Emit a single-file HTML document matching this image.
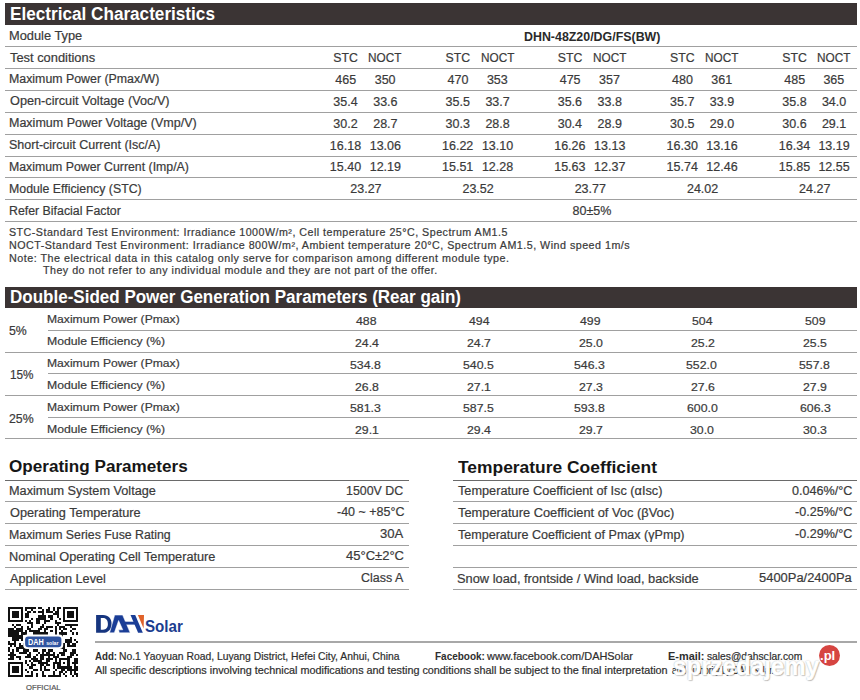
<!DOCTYPE html>
<html><head><meta charset="utf-8"><style>
html,body{margin:0;padding:0;background:#fff;}
body{width:860px;height:700px;position:relative;overflow:hidden;font-family:"Liberation Sans",sans-serif;}
.t{position:absolute;white-space:nowrap;line-height:normal;transform-origin:0 0;color:#3a3a3a;font-family:"Liberation Sans",sans-serif;-webkit-text-stroke:0.2px currentColor;}
.ln{position:absolute;}
</style></head><body>
<div class="ln" style="top:3px;left:5px;width:851.5px;height:22px;background:#3b3434"></div>
<div class="ln" style="top:287px;left:5px;width:851.5px;height:21px;background:#3b3434"></div>
<div class="ln" style="top:46px;left:5px;width:851.5px;height:1px;background:#a0a0a0"></div>
<div class="ln" style="top:68px;left:5px;width:851.5px;height:1px;background:#a0a0a0"></div>
<div class="ln" style="top:90px;left:5px;width:851.5px;height:1px;background:#a0a0a0"></div>
<div class="ln" style="top:112px;left:5px;width:851.5px;height:1px;background:#a0a0a0"></div>
<div class="ln" style="top:134px;left:5px;width:851.5px;height:1px;background:#a0a0a0"></div>
<div class="ln" style="top:156px;left:5px;width:851.5px;height:1px;background:#a0a0a0"></div>
<div class="ln" style="top:177px;left:5px;width:851.5px;height:1px;background:#a0a0a0"></div>
<div class="ln" style="top:199px;left:5px;width:851.5px;height:1px;background:#a0a0a0"></div>
<div class="ln" style="top:221px;left:5px;width:851.5px;height:1px;background:#a0a0a0"></div>
<div class="ln" style="top:330px;left:48px;width:808.5px;height:1px;background:#a0a0a0"></div>
<div class="ln" style="top:373px;left:48px;width:808.5px;height:1px;background:#a0a0a0"></div>
<div class="ln" style="top:417px;left:48px;width:808.5px;height:1px;background:#a0a0a0"></div>
<div class="ln" style="top:352px;left:5px;width:851.5px;height:1px;background:#a0a0a0"></div>
<div class="ln" style="top:395px;left:5px;width:851.5px;height:1px;background:#a0a0a0"></div>
<div class="ln" style="top:438px;left:5px;width:851.5px;height:1px;background:#a0a0a0"></div>
<div class="ln" style="top:480px;left:5px;width:403.5px;height:1px;background:#6a6a6a"></div>
<div class="ln" style="top:480px;left:453px;width:404px;height:1px;background:#6a6a6a"></div>
<div class="ln" style="top:501px;left:5px;width:403.5px;height:1px;background:#a0a0a0"></div>
<div class="ln" style="top:501px;left:453px;width:404px;height:1px;background:#a0a0a0"></div>
<div class="ln" style="top:523px;left:5px;width:403.5px;height:1px;background:#a0a0a0"></div>
<div class="ln" style="top:523px;left:453px;width:404px;height:1px;background:#a0a0a0"></div>
<div class="ln" style="top:545px;left:5px;width:403.5px;height:1px;background:#a0a0a0"></div>
<div class="ln" style="top:545px;left:453px;width:404px;height:1px;background:#a0a0a0"></div>
<div class="ln" style="top:567px;left:5px;width:403.5px;height:1px;background:#a0a0a0"></div>
<div class="ln" style="top:567px;left:453px;width:404px;height:1px;background:#a0a0a0"></div>
<div class="ln" style="top:589px;left:5px;width:403.5px;height:1px;background:#a0a0a0"></div>
<div class="ln" style="top:589px;left:453px;width:404px;height:1px;background:#a0a0a0"></div>
<div class="ln" style="top:641px;left:94.8px;width:762.0px;height:1.5px;background:#a8a8a8"></div>
<svg style="position:absolute;left:8.2px;top:607px" width="70" height="70" viewBox="0 0 33 33" shape-rendering="crispEdges"><path d="M0 0h1v1h-1zM1 0h1v1h-1zM2 0h1v1h-1zM3 0h1v1h-1zM4 0h1v1h-1zM5 0h1v1h-1zM6 0h1v1h-1zM8 0h1v1h-1zM9 0h1v1h-1zM10 0h1v1h-1zM11 0h1v1h-1zM12 0h1v1h-1zM14 0h1v1h-1zM15 0h1v1h-1zM19 0h1v1h-1zM21 0h1v1h-1zM23 0h1v1h-1zM24 0h1v1h-1zM26 0h1v1h-1zM27 0h1v1h-1zM28 0h1v1h-1zM29 0h1v1h-1zM30 0h1v1h-1zM31 0h1v1h-1zM32 0h1v1h-1zM0 1h1v1h-1zM6 1h1v1h-1zM8 1h1v1h-1zM11 1h1v1h-1zM16 1h1v1h-1zM18 1h1v1h-1zM19 1h1v1h-1zM21 1h1v1h-1zM23 1h1v1h-1zM26 1h1v1h-1zM32 1h1v1h-1zM0 2h1v1h-1zM2 2h1v1h-1zM3 2h1v1h-1zM4 2h1v1h-1zM6 2h1v1h-1zM9 2h1v1h-1zM10 2h1v1h-1zM12 2h1v1h-1zM14 2h1v1h-1zM15 2h1v1h-1zM16 2h1v1h-1zM18 2h1v1h-1zM19 2h1v1h-1zM20 2h1v1h-1zM22 2h1v1h-1zM23 2h1v1h-1zM26 2h1v1h-1zM28 2h1v1h-1zM29 2h1v1h-1zM30 2h1v1h-1zM32 2h1v1h-1zM0 3h1v1h-1zM2 3h1v1h-1zM3 3h1v1h-1zM4 3h1v1h-1zM6 3h1v1h-1zM8 3h1v1h-1zM9 3h1v1h-1zM16 3h1v1h-1zM21 3h1v1h-1zM22 3h1v1h-1zM23 3h1v1h-1zM26 3h1v1h-1zM28 3h1v1h-1zM29 3h1v1h-1zM30 3h1v1h-1zM32 3h1v1h-1zM0 4h1v1h-1zM2 4h1v1h-1zM3 4h1v1h-1zM4 4h1v1h-1zM6 4h1v1h-1zM8 4h1v1h-1zM9 4h1v1h-1zM14 4h1v1h-1zM15 4h1v1h-1zM16 4h1v1h-1zM17 4h1v1h-1zM19 4h1v1h-1zM20 4h1v1h-1zM23 4h1v1h-1zM26 4h1v1h-1zM28 4h1v1h-1zM29 4h1v1h-1zM30 4h1v1h-1zM32 4h1v1h-1zM0 5h1v1h-1zM6 5h1v1h-1zM11 5h1v1h-1zM13 5h1v1h-1zM14 5h1v1h-1zM15 5h1v1h-1zM16 5h1v1h-1zM17 5h1v1h-1zM20 5h1v1h-1zM24 5h1v1h-1zM26 5h1v1h-1zM32 5h1v1h-1zM0 6h1v1h-1zM1 6h1v1h-1zM2 6h1v1h-1zM3 6h1v1h-1zM4 6h1v1h-1zM5 6h1v1h-1zM6 6h1v1h-1zM8 6h1v1h-1zM10 6h1v1h-1zM13 6h1v1h-1zM14 6h1v1h-1zM17 6h1v1h-1zM18 6h1v1h-1zM19 6h1v1h-1zM22 6h1v1h-1zM26 6h1v1h-1zM27 6h1v1h-1zM28 6h1v1h-1zM29 6h1v1h-1zM30 6h1v1h-1zM31 6h1v1h-1zM32 6h1v1h-1zM9 7h1v1h-1zM10 7h1v1h-1zM11 7h1v1h-1zM13 7h1v1h-1zM14 7h1v1h-1zM17 7h1v1h-1zM22 7h1v1h-1zM23 7h1v1h-1zM24 7h1v1h-1zM2 8h1v1h-1zM4 8h1v1h-1zM5 8h1v1h-1zM11 8h1v1h-1zM16 8h1v1h-1zM23 8h1v1h-1zM27 8h1v1h-1zM28 8h1v1h-1zM29 8h1v1h-1zM30 8h1v1h-1zM31 8h1v1h-1zM32 8h1v1h-1zM3 9h1v1h-1zM6 9h1v1h-1zM9 9h1v1h-1zM11 9h1v1h-1zM15 9h1v1h-1zM16 9h1v1h-1zM18 9h1v1h-1zM19 9h1v1h-1zM20 9h1v1h-1zM22 9h1v1h-1zM24 9h1v1h-1zM25 9h1v1h-1zM26 9h1v1h-1zM29 9h1v1h-1zM0 10h1v1h-1zM1 10h1v1h-1zM2 10h1v1h-1zM4 10h1v1h-1zM5 10h1v1h-1zM6 10h1v1h-1zM9 10h1v1h-1zM10 10h1v1h-1zM14 10h1v1h-1zM15 10h1v1h-1zM17 10h1v1h-1zM18 10h1v1h-1zM22 10h1v1h-1zM24 10h1v1h-1zM26 10h1v1h-1zM27 10h1v1h-1zM30 10h1v1h-1zM31 10h1v1h-1zM0 11h1v1h-1zM1 11h1v1h-1zM2 11h1v1h-1zM3 11h1v1h-1zM4 11h1v1h-1zM5 11h1v1h-1zM6 11h1v1h-1zM8 11h1v1h-1zM10 11h1v1h-1zM11 11h1v1h-1zM12 11h1v1h-1zM13 11h1v1h-1zM14 11h1v1h-1zM17 11h1v1h-1zM20 11h1v1h-1zM22 11h1v1h-1zM25 11h1v1h-1zM29 11h1v1h-1zM0 12h1v1h-1zM1 12h1v1h-1zM2 12h1v1h-1zM3 12h1v1h-1zM4 12h1v1h-1zM6 12h1v1h-1zM7 12h1v1h-1zM8 12h1v1h-1zM12 12h1v1h-1zM13 12h1v1h-1zM14 12h1v1h-1zM15 12h1v1h-1zM16 12h1v1h-1zM17 12h1v1h-1zM18 12h1v1h-1zM22 12h1v1h-1zM24 12h1v1h-1zM25 12h1v1h-1zM26 12h1v1h-1zM27 12h1v1h-1zM30 12h1v1h-1zM32 12h1v1h-1zM0 13h1v1h-1zM1 13h1v1h-1zM2 13h1v1h-1zM3 13h1v1h-1zM4 13h1v1h-1zM5 13h1v1h-1zM6 13h1v1h-1zM13 13h1v1h-1zM14 13h1v1h-1zM16 13h1v1h-1zM19 13h1v1h-1zM25 13h1v1h-1zM2 14h1v1h-1zM3 14h1v1h-1zM4 14h1v1h-1zM5 14h1v1h-1zM6 14h1v1h-1zM13 14h1v1h-1zM19 14h1v1h-1zM21 14h1v1h-1zM22 14h1v1h-1zM23 14h1v1h-1zM25 14h1v1h-1zM29 14h1v1h-1zM2 15h1v1h-1zM3 15h1v1h-1zM4 15h1v1h-1zM6 15h1v1h-1zM8 15h1v1h-1zM9 15h1v1h-1zM10 15h1v1h-1zM14 15h1v1h-1zM18 15h1v1h-1zM20 15h1v1h-1zM23 15h1v1h-1zM24 15h1v1h-1zM27 15h1v1h-1zM28 15h1v1h-1zM29 15h1v1h-1zM31 15h1v1h-1zM0 16h1v1h-1zM3 16h1v1h-1zM8 16h1v1h-1zM11 16h1v1h-1zM12 16h1v1h-1zM14 16h1v1h-1zM15 16h1v1h-1zM16 16h1v1h-1zM17 16h1v1h-1zM18 16h1v1h-1zM20 16h1v1h-1zM23 16h1v1h-1zM27 16h1v1h-1zM28 16h1v1h-1zM29 16h1v1h-1zM32 16h1v1h-1zM0 17h1v1h-1zM1 17h1v1h-1zM2 17h1v1h-1zM3 17h1v1h-1zM5 17h1v1h-1zM7 17h1v1h-1zM8 17h1v1h-1zM10 17h1v1h-1zM11 17h1v1h-1zM20 17h1v1h-1zM22 17h1v1h-1zM25 17h1v1h-1zM26 17h1v1h-1zM28 17h1v1h-1zM30 17h1v1h-1zM31 17h1v1h-1zM1 18h1v1h-1zM3 18h1v1h-1zM5 18h1v1h-1zM6 18h1v1h-1zM7 18h1v1h-1zM8 18h1v1h-1zM11 18h1v1h-1zM14 18h1v1h-1zM15 18h1v1h-1zM16 18h1v1h-1zM17 18h1v1h-1zM18 18h1v1h-1zM19 18h1v1h-1zM20 18h1v1h-1zM21 18h1v1h-1zM25 18h1v1h-1zM26 18h1v1h-1zM28 18h1v1h-1zM29 18h1v1h-1zM30 18h1v1h-1zM31 18h1v1h-1zM0 19h1v1h-1zM4 19h1v1h-1zM5 19h1v1h-1zM6 19h1v1h-1zM7 19h1v1h-1zM8 19h1v1h-1zM12 19h1v1h-1zM13 19h1v1h-1zM18 19h1v1h-1zM19 19h1v1h-1zM24 19h1v1h-1zM25 19h1v1h-1zM26 19h1v1h-1zM0 20h1v1h-1zM2 20h1v1h-1zM4 20h1v1h-1zM7 20h1v1h-1zM8 20h1v1h-1zM9 20h1v1h-1zM12 20h1v1h-1zM13 20h1v1h-1zM16 20h1v1h-1zM17 20h1v1h-1zM19 20h1v1h-1zM20 20h1v1h-1zM26 20h1v1h-1zM27 20h1v1h-1zM30 20h1v1h-1zM31 20h1v1h-1zM1 21h1v1h-1zM2 21h1v1h-1zM5 21h1v1h-1zM6 21h1v1h-1zM7 21h1v1h-1zM8 21h1v1h-1zM10 21h1v1h-1zM14 21h1v1h-1zM16 21h1v1h-1zM18 21h1v1h-1zM19 21h1v1h-1zM21 21h1v1h-1zM24 21h1v1h-1zM25 21h1v1h-1zM26 21h1v1h-1zM29 21h1v1h-1zM30 21h1v1h-1zM31 21h1v1h-1zM0 22h1v1h-1zM1 22h1v1h-1zM2 22h1v1h-1zM3 22h1v1h-1zM9 22h1v1h-1zM10 22h1v1h-1zM13 22h1v1h-1zM15 22h1v1h-1zM16 22h1v1h-1zM17 22h1v1h-1zM18 22h1v1h-1zM19 22h1v1h-1zM20 22h1v1h-1zM21 22h1v1h-1zM23 22h1v1h-1zM25 22h1v1h-1zM26 22h1v1h-1zM29 22h1v1h-1zM30 22h1v1h-1zM32 22h1v1h-1zM1 23h1v1h-1zM2 23h1v1h-1zM4 23h1v1h-1zM5 23h1v1h-1zM8 23h1v1h-1zM9 23h1v1h-1zM10 23h1v1h-1zM12 23h1v1h-1zM15 23h1v1h-1zM16 23h1v1h-1zM19 23h1v1h-1zM21 23h1v1h-1zM22 23h1v1h-1zM23 23h1v1h-1zM28 23h1v1h-1zM29 23h1v1h-1zM0 24h1v1h-1zM1 24h1v1h-1zM2 24h1v1h-1zM5 24h1v1h-1zM11 24h1v1h-1zM12 24h1v1h-1zM13 24h1v1h-1zM15 24h1v1h-1zM16 24h1v1h-1zM18 24h1v1h-1zM19 24h1v1h-1zM20 24h1v1h-1zM22 24h1v1h-1zM24 24h1v1h-1zM25 24h1v1h-1zM26 24h1v1h-1zM27 24h1v1h-1zM28 24h1v1h-1zM31 24h1v1h-1zM32 24h1v1h-1zM8 25h1v1h-1zM10 25h1v1h-1zM12 25h1v1h-1zM13 25h1v1h-1zM14 25h1v1h-1zM15 25h1v1h-1zM18 25h1v1h-1zM19 25h1v1h-1zM22 25h1v1h-1zM24 25h1v1h-1zM28 25h1v1h-1zM31 25h1v1h-1zM32 25h1v1h-1zM0 26h1v1h-1zM1 26h1v1h-1zM2 26h1v1h-1zM3 26h1v1h-1zM4 26h1v1h-1zM5 26h1v1h-1zM6 26h1v1h-1zM8 26h1v1h-1zM11 26h1v1h-1zM14 26h1v1h-1zM15 26h1v1h-1zM16 26h1v1h-1zM17 26h1v1h-1zM18 26h1v1h-1zM21 26h1v1h-1zM22 26h1v1h-1zM23 26h1v1h-1zM24 26h1v1h-1zM26 26h1v1h-1zM28 26h1v1h-1zM30 26h1v1h-1zM31 26h1v1h-1zM32 26h1v1h-1zM0 27h1v1h-1zM6 27h1v1h-1zM9 27h1v1h-1zM11 27h1v1h-1zM12 27h1v1h-1zM15 27h1v1h-1zM16 27h1v1h-1zM18 27h1v1h-1zM19 27h1v1h-1zM21 27h1v1h-1zM23 27h1v1h-1zM24 27h1v1h-1zM28 27h1v1h-1zM31 27h1v1h-1zM0 28h1v1h-1zM2 28h1v1h-1zM3 28h1v1h-1zM4 28h1v1h-1zM6 28h1v1h-1zM10 28h1v1h-1zM11 28h1v1h-1zM15 28h1v1h-1zM17 28h1v1h-1zM21 28h1v1h-1zM23 28h1v1h-1zM24 28h1v1h-1zM25 28h1v1h-1zM26 28h1v1h-1zM27 28h1v1h-1zM28 28h1v1h-1zM29 28h1v1h-1zM31 28h1v1h-1zM32 28h1v1h-1zM0 29h1v1h-1zM2 29h1v1h-1zM3 29h1v1h-1zM4 29h1v1h-1zM6 29h1v1h-1zM8 29h1v1h-1zM12 29h1v1h-1zM13 29h1v1h-1zM15 29h1v1h-1zM17 29h1v1h-1zM18 29h1v1h-1zM19 29h1v1h-1zM22 29h1v1h-1zM25 29h1v1h-1zM26 29h1v1h-1zM28 29h1v1h-1zM29 29h1v1h-1zM30 29h1v1h-1zM31 29h1v1h-1zM32 29h1v1h-1zM0 30h1v1h-1zM2 30h1v1h-1zM3 30h1v1h-1zM4 30h1v1h-1zM6 30h1v1h-1zM9 30h1v1h-1zM11 30h1v1h-1zM16 30h1v1h-1zM21 30h1v1h-1zM24 30h1v1h-1zM25 30h1v1h-1zM27 30h1v1h-1zM29 30h1v1h-1zM31 30h1v1h-1zM0 31h1v1h-1zM6 31h1v1h-1zM11 31h1v1h-1zM13 31h1v1h-1zM16 31h1v1h-1zM21 31h1v1h-1zM24 31h1v1h-1zM26 31h1v1h-1zM29 31h1v1h-1zM31 31h1v1h-1zM32 31h1v1h-1zM0 32h1v1h-1zM1 32h1v1h-1zM2 32h1v1h-1zM3 32h1v1h-1zM4 32h1v1h-1zM5 32h1v1h-1zM6 32h1v1h-1zM8 32h1v1h-1zM9 32h1v1h-1zM10 32h1v1h-1zM11 32h1v1h-1zM13 32h1v1h-1zM16 32h1v1h-1zM17 32h1v1h-1zM19 32h1v1h-1zM20 32h1v1h-1zM21 32h1v1h-1zM22 32h1v1h-1zM23 32h1v1h-1zM24 32h1v1h-1zM27 32h1v1h-1zM30 32h1v1h-1zM32 32h1v1h-1z" fill="#111"/></svg>
<svg style="position:absolute;left:0;top:600px" width="90" height="60" viewBox="0 600 90 60">
<rect x="23.2" y="634.5" width="40" height="14.5" rx="4" fill="#fff"/>
<rect x="25.1" y="636.4" width="36.3" height="10.8" rx="3.2" fill="#2f54a0"/>
<text x="28" y="645.2" font-family="Liberation Sans" font-weight="700" font-size="8.3" fill="#fff" textLength="15.8" lengthAdjust="spacingAndGlyphs">DAH</text>
<text x="46.2" y="645.2" font-family="Liberation Sans" font-weight="700" font-size="5.6" fill="#fff" textLength="12.3" lengthAdjust="spacingAndGlyphs">solar</text>
</svg>
<svg style="position:absolute;left:94px;top:611px" width="56" height="25" viewBox="94 611 56 25">
<path d="M96.1 615.1H103C108.6 615.1 111.6 618.9 111.6 624C111.6 629.1 108.6 632.8 103 632.8H96.1Z M100.8 618.1V629.7H103C106.3 629.7 107.9 627.4 107.9 624C107.9 620.5 106.3 618.1 103 618.1Z" fill="#16357f" fill-rule="evenodd"/>
<path d="M109.6 632.8L114.7 615.1H122.6L130.2 632.8H119.3L118.6 629.8H122.8L118.6 620.5L114.3 632.8Z" fill="#1a3d96" stroke="#fff" stroke-width="0.5"/>
<path d="M125 621.7H136.5V624.6H125Z" fill="#1a3d96"/>
<path d="M130.5 615.1H135.2L142.8 632.8H138.1Z" fill="#1a3d96"/>
<path d="M137.9 615.1H144L143.6 628.5Z" fill="#e0622a"/>
</svg>
<div style="position:absolute;left:818.6px;top:645px;width:21.4px;height:21.4px;border-radius:50%;background:#d64541"></div>
<div class="t" style="left:9.72px;top:3.70px;font-size:17.5px;font-weight:700;-webkit-text-stroke:0;color:#ffffff;transform:scaleX(0.9798);">Electrical Characteristics</div>
<div class="t" style="left:9.13px;top:28.60px;font-size:12px;transform:scaleX(1.0687);">Module Type</div>
<div class="t" style="left:10.20px;top:50.50px;font-size:12px;transform:scaleX(1.0722);">Test conditions</div>
<div class="t" style="left:9.17px;top:72.40px;font-size:12px;transform:scaleX(1.0299);">Maximum Power (Pmax/W)</div>
<div class="t" style="left:10.20px;top:94.30px;font-size:12px;transform:scaleX(1.0587);">Open-circuit Voltage (Voc/V)</div>
<div class="t" style="left:9.16px;top:116.20px;font-size:12px;transform:scaleX(1.0421);">Maximum Power Voltage (Vmp/V)</div>
<div class="t" style="left:9.16px;top:138.10px;font-size:12px;transform:scaleX(1.0424);">Short-circuit Current (Isc/A)</div>
<div class="t" style="left:9.17px;top:160.00px;font-size:12px;transform:scaleX(1.0259);">Maximum Power Current (Imp/A)</div>
<div class="t" style="left:9.17px;top:181.90px;font-size:12px;transform:scaleX(1.0273);">Module Efficiency (STC)</div>
<div class="t" style="left:9.17px;top:203.80px;font-size:12px;transform:scaleX(1.0287);">Refer Bifacial Factor</div>
<div class="t" style="left:523.77px;top:29.80px;font-size:12px;font-weight:700;-webkit-text-stroke:0;color:#2a2a2a;transform:scaleX(1.0336);">DHN-48Z20/DG/FS(BW)</div>
<div class="t" style="left:333.30px;top:51.30px;font-size:12.3px;">STC</div>
<div class="t" style="left:368.44px;top:51.30px;font-size:12.3px;transform:scaleX(0.9588);">NOCT</div>
<div class="t" style="left:445.50px;top:51.30px;font-size:12.3px;">STC</div>
<div class="t" style="left:480.64px;top:51.30px;font-size:12.3px;transform:scaleX(0.9588);">NOCT</div>
<div class="t" style="left:557.70px;top:51.30px;font-size:12.3px;">STC</div>
<div class="t" style="left:592.84px;top:51.30px;font-size:12.3px;transform:scaleX(0.9588);">NOCT</div>
<div class="t" style="left:670.10px;top:51.30px;font-size:12.3px;">STC</div>
<div class="t" style="left:705.04px;top:51.30px;font-size:12.3px;transform:scaleX(0.9588);">NOCT</div>
<div class="t" style="left:782.30px;top:51.30px;font-size:12.3px;">STC</div>
<div class="t" style="left:817.14px;top:51.30px;font-size:12.3px;transform:scaleX(0.9588);">NOCT</div>
<div class="t" style="left:335.30px;top:72.80px;font-size:12.5px;">465</div>
<div class="t" style="left:374.70px;top:72.80px;font-size:12.5px;">350</div>
<div class="t" style="left:447.50px;top:72.80px;font-size:12.5px;">470</div>
<div class="t" style="left:486.90px;top:72.80px;font-size:12.5px;">353</div>
<div class="t" style="left:559.70px;top:72.80px;font-size:12.5px;">475</div>
<div class="t" style="left:599.10px;top:72.80px;font-size:12.5px;">357</div>
<div class="t" style="left:672.10px;top:72.80px;font-size:12.5px;">480</div>
<div class="t" style="left:711.30px;top:72.80px;font-size:12.5px;">361</div>
<div class="t" style="left:784.30px;top:72.80px;font-size:12.5px;">485</div>
<div class="t" style="left:823.40px;top:72.80px;font-size:12.5px;">365</div>
<div class="t" style="left:333.30px;top:94.70px;font-size:12.5px;">35.4</div>
<div class="t" style="left:373.20px;top:94.70px;font-size:12.5px;">33.6</div>
<div class="t" style="left:445.50px;top:94.70px;font-size:12.5px;">35.5</div>
<div class="t" style="left:485.40px;top:94.70px;font-size:12.5px;">33.7</div>
<div class="t" style="left:557.70px;top:94.70px;font-size:12.5px;">35.6</div>
<div class="t" style="left:597.60px;top:94.70px;font-size:12.5px;">33.8</div>
<div class="t" style="left:670.10px;top:94.70px;font-size:12.5px;">35.7</div>
<div class="t" style="left:709.80px;top:94.70px;font-size:12.5px;">33.9</div>
<div class="t" style="left:782.30px;top:94.70px;font-size:12.5px;">35.8</div>
<div class="t" style="left:821.90px;top:94.70px;font-size:12.5px;">34.0</div>
<div class="t" style="left:333.30px;top:116.60px;font-size:12.5px;">30.2</div>
<div class="t" style="left:373.20px;top:116.60px;font-size:12.5px;">28.7</div>
<div class="t" style="left:445.50px;top:116.60px;font-size:12.5px;">30.3</div>
<div class="t" style="left:485.40px;top:116.60px;font-size:12.5px;">28.8</div>
<div class="t" style="left:557.70px;top:116.60px;font-size:12.5px;">30.4</div>
<div class="t" style="left:597.60px;top:116.60px;font-size:12.5px;">28.9</div>
<div class="t" style="left:670.10px;top:116.60px;font-size:12.5px;">30.5</div>
<div class="t" style="left:709.80px;top:116.60px;font-size:12.5px;">29.0</div>
<div class="t" style="left:782.30px;top:116.60px;font-size:12.5px;">30.6</div>
<div class="t" style="left:821.90px;top:116.60px;font-size:12.5px;">29.1</div>
<div class="t" style="left:329.80px;top:138.50px;font-size:12.5px;">16.18</div>
<div class="t" style="left:369.70px;top:138.50px;font-size:12.5px;">13.06</div>
<div class="t" style="left:442.00px;top:138.50px;font-size:12.5px;">16.22</div>
<div class="t" style="left:481.90px;top:138.50px;font-size:12.5px;">13.10</div>
<div class="t" style="left:554.20px;top:138.50px;font-size:12.5px;">16.26</div>
<div class="t" style="left:594.10px;top:138.50px;font-size:12.5px;">13.13</div>
<div class="t" style="left:666.60px;top:138.50px;font-size:12.5px;">16.30</div>
<div class="t" style="left:706.30px;top:138.50px;font-size:12.5px;">13.16</div>
<div class="t" style="left:778.80px;top:138.50px;font-size:12.5px;">16.34</div>
<div class="t" style="left:818.40px;top:138.50px;font-size:12.5px;">13.19</div>
<div class="t" style="left:329.80px;top:160.40px;font-size:12.5px;">15.40</div>
<div class="t" style="left:369.70px;top:160.40px;font-size:12.5px;">12.19</div>
<div class="t" style="left:442.00px;top:160.40px;font-size:12.5px;">15.51</div>
<div class="t" style="left:481.90px;top:160.40px;font-size:12.5px;">12.28</div>
<div class="t" style="left:554.20px;top:160.40px;font-size:12.5px;">15.63</div>
<div class="t" style="left:594.10px;top:160.40px;font-size:12.5px;">12.37</div>
<div class="t" style="left:666.60px;top:160.40px;font-size:12.5px;">15.74</div>
<div class="t" style="left:706.30px;top:160.40px;font-size:12.5px;">12.46</div>
<div class="t" style="left:778.80px;top:160.40px;font-size:12.5px;">15.85</div>
<div class="t" style="left:818.40px;top:160.40px;font-size:12.5px;">12.55</div>
<div class="t" style="left:350.25px;top:182.30px;font-size:12.5px;">23.27</div>
<div class="t" style="left:462.45px;top:182.30px;font-size:12.5px;">23.52</div>
<div class="t" style="left:574.65px;top:182.30px;font-size:12.5px;">23.77</div>
<div class="t" style="left:686.95px;top:182.30px;font-size:12.5px;">24.02</div>
<div class="t" style="left:799.10px;top:182.30px;font-size:12.5px;">24.27</div>
<div class="t" style="left:572.50px;top:204.20px;font-size:12.5px;">80±5%</div>
<div class="t" style="left:8.63px;top:227.00px;font-size:10px;letter-spacing:0.45px;transform:scaleX(1.0686);">STC-Standard Test Environment: Irradiance 1000W/m², Cell temperature 25°C, Spectrum AM1.5</div>
<div class="t" style="left:8.63px;top:239.60px;font-size:10px;letter-spacing:0.45px;transform:scaleX(1.0713);">NOCT-Standard Test Environment: Irradiance 800W/m², Ambient temperature 20°C, Spectrum AM1.5, Wind speed 1m/s</div>
<div class="t" style="left:8.62px;top:252.60px;font-size:10px;letter-spacing:0.45px;transform:scaleX(1.0769);">Note: The electrical data in this catalog only serve for comparison among different module type.</div>
<div class="t" style="left:42.80px;top:265.10px;font-size:10px;letter-spacing:0.45px;transform:scaleX(1.0693);">They do not refer to any individual module and they are not part of the offer.</div>
<div class="t" style="left:9.53px;top:286.90px;font-size:17.5px;font-weight:700;-webkit-text-stroke:0;color:#ffffff;transform:scaleX(0.9723);">Double-Sided Power Generation Parameters (Rear gain)</div>
<div class="t" style="left:9.00px;top:324.00px;font-size:12.3px;">5%</div>
<div class="t" style="left:10.04px;top:368.00px;font-size:12.3px;transform:scaleX(0.9565);">15%</div>
<div class="t" style="left:9.00px;top:411.60px;font-size:12.3px;">25%</div>
<div class="t" style="left:47.45px;top:313.10px;font-size:11.5px;transform:scaleX(1.0540);">Maximum Power (Pmax)</div>
<div class="t" style="left:47.44px;top:334.80px;font-size:11.5px;transform:scaleX(1.0636);">Module Efficiency (%)</div>
<div class="t" style="left:47.45px;top:356.50px;font-size:11.5px;transform:scaleX(1.0540);">Maximum Power (Pmax)</div>
<div class="t" style="left:47.44px;top:378.80px;font-size:11.5px;transform:scaleX(1.0636);">Module Efficiency (%)</div>
<div class="t" style="left:47.45px;top:400.50px;font-size:11.5px;transform:scaleX(1.0540);">Maximum Power (Pmax)</div>
<div class="t" style="left:47.44px;top:422.50px;font-size:11.5px;transform:scaleX(1.0636);">Module Efficiency (%)</div>
<div class="t" style="left:356.23px;top:314.80px;font-size:11.5px;transform:scaleX(1.0700);">488</div>
<div class="t" style="left:468.53px;top:314.80px;font-size:11.5px;transform:scaleX(1.0700);">494</div>
<div class="t" style="left:580.34px;top:314.80px;font-size:11.5px;transform:scaleX(1.0700);">499</div>
<div class="t" style="left:691.80px;top:314.80px;font-size:11.5px;transform:scaleX(1.0700);">504</div>
<div class="t" style="left:804.50px;top:314.80px;font-size:11.5px;transform:scaleX(1.0700);">509</div>
<div class="t" style="left:354.63px;top:336.50px;font-size:11.5px;transform:scaleX(1.0700);">24.4</div>
<div class="t" style="left:466.93px;top:336.50px;font-size:11.5px;transform:scaleX(1.0700);">24.7</div>
<div class="t" style="left:578.73px;top:336.50px;font-size:11.5px;transform:scaleX(1.0700);">25.0</div>
<div class="t" style="left:690.73px;top:336.50px;font-size:11.5px;transform:scaleX(1.0700);">25.2</div>
<div class="t" style="left:803.43px;top:336.50px;font-size:11.5px;transform:scaleX(1.0700);">25.5</div>
<div class="t" style="left:350.35px;top:358.70px;font-size:11.5px;transform:scaleX(1.0700);">534.8</div>
<div class="t" style="left:462.65px;top:358.70px;font-size:11.5px;transform:scaleX(1.0700);">540.5</div>
<div class="t" style="left:574.45px;top:358.70px;font-size:11.5px;transform:scaleX(1.0700);">546.3</div>
<div class="t" style="left:686.45px;top:358.70px;font-size:11.5px;transform:scaleX(1.0700);">552.0</div>
<div class="t" style="left:799.15px;top:358.70px;font-size:11.5px;transform:scaleX(1.0700);">557.8</div>
<div class="t" style="left:354.63px;top:380.60px;font-size:11.5px;transform:scaleX(1.0700);">26.8</div>
<div class="t" style="left:466.93px;top:380.60px;font-size:11.5px;transform:scaleX(1.0700);">27.1</div>
<div class="t" style="left:578.73px;top:380.60px;font-size:11.5px;transform:scaleX(1.0700);">27.3</div>
<div class="t" style="left:690.73px;top:380.60px;font-size:11.5px;transform:scaleX(1.0700);">27.6</div>
<div class="t" style="left:803.43px;top:380.60px;font-size:11.5px;transform:scaleX(1.0700);">27.9</div>
<div class="t" style="left:350.35px;top:402.30px;font-size:11.5px;transform:scaleX(1.0700);">581.3</div>
<div class="t" style="left:462.65px;top:402.30px;font-size:11.5px;transform:scaleX(1.0700);">587.5</div>
<div class="t" style="left:574.45px;top:402.30px;font-size:11.5px;transform:scaleX(1.0700);">593.8</div>
<div class="t" style="left:686.99px;top:402.30px;font-size:11.5px;transform:scaleX(1.0700);">600.0</div>
<div class="t" style="left:799.69px;top:402.30px;font-size:11.5px;transform:scaleX(1.0700);">606.3</div>
<div class="t" style="left:354.63px;top:424.10px;font-size:11.5px;transform:scaleX(1.0700);">29.1</div>
<div class="t" style="left:466.93px;top:424.10px;font-size:11.5px;transform:scaleX(1.0700);">29.4</div>
<div class="t" style="left:578.73px;top:424.10px;font-size:11.5px;transform:scaleX(1.0700);">29.7</div>
<div class="t" style="left:690.20px;top:424.10px;font-size:11.5px;transform:scaleX(1.0700);">30.0</div>
<div class="t" style="left:802.90px;top:424.10px;font-size:11.5px;transform:scaleX(1.0700);">30.3</div>
<div class="t" style="left:9.43px;top:458.40px;font-size:16px;font-weight:700;-webkit-text-stroke:0;color:#161616;transform:scaleX(1.0687);">Operating Parameters</div>
<div class="t" style="left:9.14px;top:484.00px;font-size:12px;transform:scaleX(1.0591);">Maximum System Voltage</div>
<div class="t" style="left:346.37px;top:483.70px;font-size:12px;transform:scaleX(1.0333);">1500V DC</div>
<div class="t" style="left:10.20px;top:506.00px;font-size:12px;transform:scaleX(1.0610);">Operating Temperature</div>
<div class="t" style="left:336.60px;top:505.40px;font-size:12px;transform:scaleX(1.0406);">-40 ~ +85°C</div>
<div class="t" style="left:9.17px;top:528.00px;font-size:12px;transform:scaleX(1.0276);">Maximum Series Fuse Rating</div>
<div class="t" style="left:380.31px;top:527.20px;font-size:12px;transform:scaleX(1.0900);">30A</div>
<div class="t" style="left:9.14px;top:549.80px;font-size:12px;transform:scaleX(1.0611);">Nominal Operating Cell Temperature</div>
<div class="t" style="left:345.80px;top:549.00px;font-size:12px;transform:scaleX(1.0830);">45°C±2°C</div>
<div class="t" style="left:10.20px;top:571.60px;font-size:12px;transform:scaleX(1.0567);">Application Level</div>
<div class="t" style="left:360.66px;top:571.30px;font-size:12px;transform:scaleX(1.0375);">Class A</div>
<div class="t" style="left:458.10px;top:458.60px;font-size:16px;font-weight:700;-webkit-text-stroke:0;color:#161616;transform:scaleX(1.0880);">Temperature Coefficient</div>
<div class="t" style="left:458.00px;top:484.00px;font-size:12px;transform:scaleX(1.0604);">Temperature Coefficient of Isc (αIsc)</div>
<div class="t" style="left:791.80px;top:483.70px;font-size:12px;transform:scaleX(1.0491);">0.046%/°C</div>
<div class="t" style="left:458.00px;top:506.00px;font-size:12px;transform:scaleX(1.0706);">Temperature Coefficient of Voc (βVoc)</div>
<div class="t" style="left:795.00px;top:505.40px;font-size:12px;transform:scaleX(1.0481);">-0.25%/°C</div>
<div class="t" style="left:458.00px;top:528.00px;font-size:12px;transform:scaleX(1.0463);">Temperature Coefficient of Pmax (γPmp)</div>
<div class="t" style="left:795.00px;top:527.20px;font-size:12px;transform:scaleX(1.0481);">-0.29%/°C</div>
<div class="t" style="left:456.93px;top:571.60px;font-size:12px;transform:scaleX(1.0689);">Snow load, frontside / Wind load, backside</div>
<div class="t" style="left:758.92px;top:571.30px;font-size:12px;transform:scaleX(1.0776);">5400Pa/2400Pa</div>
<div class="t" style="left:145.45px;top:618.40px;font-size:16px;font-weight:700;-webkit-text-stroke:0;color:#1b3d8f;transform:scaleX(0.9462);">Solar</div>
<div class="t" style="left:25.50px;top:682.80px;font-size:8px;color:#555555;transform:scaleX(0.9583);">OFFICIAL</div>
<div class="t" style="left:95.40px;top:650.50px;font-size:10.3px;font-weight:700;-webkit-text-stroke:0;color:#2e2e2e;transform:scaleX(0.9391);">Add:</div>
<div class="t" style="left:119.00px;top:650.50px;font-size:10.3px;color:#2e2e2e;transform:scaleX(1.0043);">No.1 Yaoyuan Road, Luyang District, Hefei City, Anhui, China</div>
<div class="t" style="left:434.53px;top:650.50px;font-size:10.3px;font-weight:700;-webkit-text-stroke:0;color:#2e2e2e;transform:scaleX(0.9700);">Facebook:</div>
<div class="t" style="left:487.00px;top:650.50px;font-size:10.3px;color:#2e2e2e;transform:scaleX(1.0620);">www.facebook.com/DAHSolar</div>
<div class="t" style="left:667.94px;top:650.50px;font-size:10.3px;font-weight:700;-webkit-text-stroke:0;color:#2e2e2e;transform:scaleX(1.0606);">E-mail:</div>
<div class="t" style="left:707.00px;top:650.50px;font-size:10.3px;color:#2e2e2e;transform:scaleX(0.9947);">sales@dahsolar.com</div>
<div class="t" style="left:95.40px;top:664.80px;font-size:10.3px;color:#2e2e2e;transform:scaleX(1.0497);">All specific descriptions involving technical modifications and testing conditions shall be subject to the final interpretation</div>
<div class="t" style="left:672.00px;top:664.80px;font-size:10.3px;color:#2e2e2e;transform:scaleX(0.8016);">and authority by DAH Solar.</div>
<div class="t" style="left:673.34px;top:652.20px;font-size:25px;font-weight:700;-webkit-text-stroke:0;color:#ffffff;transform:scaleX(0.9647);-webkit-text-stroke:0.6px #fff;text-shadow:0 0 1.2px rgba(0,0,0,0.55),1px 1px 1px rgba(0,0,0,0.25);">sprzedajemy</div>
<div class="t" style="left:820.35px;top:648.60px;font-size:12.5px;font-weight:700;-webkit-text-stroke:0;color:#ffffff;transform:scaleX(1.0462);">.pl</div>
</body></html>
